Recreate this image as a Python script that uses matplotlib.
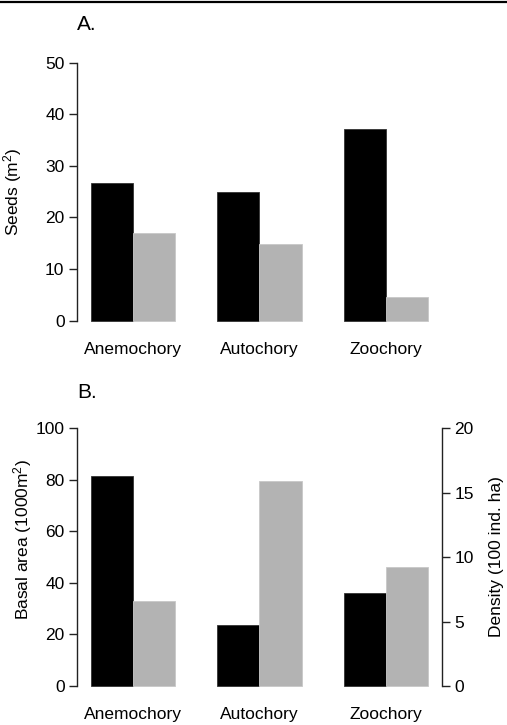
import matplotlib
matplotlib.use('Agg')
import matplotlib.pyplot as plt
from matplotlib.lines import Line2D

plt.rcParams['font.family'] = ['Liberation Sans', 'DejaVu Sans']
plt.rcParams['mathtext.fontset'] = 'custom'
plt.rcParams['mathtext.rm'] = 'Liberation Sans'
plt.rcParams['mathtext.it'] = 'Liberation Sans:italic'

categories = ['Anemochory', 'Autochory', 'Zoochory']
seeds_black = [26.7, 24.9, 37.1]
seeds_gray = [17.0, 14.9, 4.6]
basal_area = [81.5, 23.5, 36.2]
density = [6.6, 15.9, 9.25]

BLACK = '#000000'
GRAY = '#b3b3b3'
AXCOL = '#222222'
FS = 12.5
W, H = 507, 725


def px_rect(x0, y_top, x1, y_bot):
    # pixel box -> figure fraction
    return [x0 / W, 1 - y_bot / H, (x1 - x0) / W, (y_bot - y_top) / H]


def style_axis(ax, side, top):
    for s in ['top', 'bottom', 'left', 'right']:
        ax.spines[s].set_visible(False)
    ax.spines[side].set_visible(True)
    ax.spines[side].set_bounds(0, top)
    ax.spines[side].set_color(AXCOL)
    ax.spines[side].set_linewidth(1.0)
    ax.tick_params(axis='y', length=6, width=1.0, color=AXCOL, labelsize=FS, pad=3)


def main():
    fig = plt.figure(figsize=(W / 100, H / 100), dpi=100)
    fig.add_artist(Line2D([0, 1], [1 - 1.5 / H, 1 - 1.5 / H], color='black', lw=1.6,
                          transform=fig.transFigure))

    xb = [3 * i + 1.5 for i in range(3)]
    xg = [3 * i + 2.5 for i in range(3)]
    xc = [3 * i + 2 for i in range(3)]

    # panel A
    ax1 = fig.add_axes(px_rect(77, 52.4, 441.7, 331.0))
    ax1.bar(xb, seeds_black, width=1, color=BLACK, edgecolor='#333333', linewidth=0.6)
    ax1.bar(xg, seeds_gray, width=1, color=GRAY, edgecolor='#c8c8c8', linewidth=0.6)
    ax1.set_xlim(0.68, 9.32)
    ax1.set_ylim(-2, 52)
    ax1.set_yticks([0, 10, 20, 30, 40, 50])
    style_axis(ax1, 'left', 50)
    ax1.set_xticks(xc)
    ax1.set_xticklabels(categories, fontsize=FS)
    ax1.tick_params(axis='x', length=0, pad=8)
    fig.text(77 / W, 1 - 25 / H, 'A.', fontsize=15, ha='left', va='center')
    fig.text(13 / W, 1 - 192 / H, 'Seeds (m$^2$)', fontsize=FS, rotation=90,
             ha='center', va='center')

    # panel B
    ax2 = fig.add_axes(px_rect(77, 418.0, 441.7, 696.3))
    ax2.bar(xb, basal_area, width=1, color=BLACK, edgecolor='#333333', linewidth=0.6)
    ax2.set_xlim(0.68, 9.32)
    ax2.set_ylim(-4, 104)
    ax2.set_yticks([0, 20, 40, 60, 80, 100])
    style_axis(ax2, 'left', 100)
    ax2.set_xticks(xc)
    ax2.set_xticklabels(categories, fontsize=FS)
    ax2.tick_params(axis='x', length=0, pad=8)

    ax3 = ax2.twinx()
    ax3.bar(xg, density, width=1, color=GRAY, edgecolor='#c8c8c8', linewidth=0.6)
    ax3.set_ylim(-0.8, 20.8)
    ax3.set_yticks([0, 5, 10, 15, 20])
    style_axis(ax3, 'right', 20)

    fig.text(77 / W, 1 - 393 / H, 'B.', fontsize=15, ha='left', va='center')
    fig.text(23 / W, 1 - 540 / H, 'Basal area (1000m$^2$)', fontsize=FS, rotation=90,
             ha='center', va='center')
    fig.text(496 / W, 1 - 557 / H, 'Density (100 ind. ha)', fontsize=FS, rotation=90,
             ha='center', va='center')

    fig.savefig('out.png', dpi=100)


if __name__ == '__main__':
    main()
